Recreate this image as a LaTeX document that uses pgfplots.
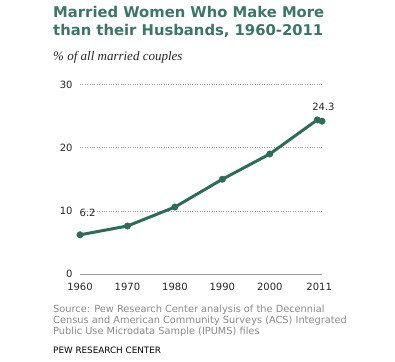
\documentclass[border=0pt]{standalone}
\usepackage{pgfplots}
\pgfplotsset{compat=1.18}
\usepackage{fontspec}
\setmainfont{DejaVu Sans}
\newfontfamily\titlefont{DejaVu Sans}
\newfontfamily\subfont{Liberation Serif}
\definecolor{titlegreen}{HTML}{3D7568}
\definecolor{linegreen}{HTML}{2F6B5B}
\definecolor{srcgray}{HTML}{8A8A8A}
\definecolor{gridgray}{HTML}{999999}
\begin{document}
\begin{tikzpicture}
\useasboundingbox (0,0) rectangle (395bp,362bp);
\node[anchor=base west, inner sep=0pt, text=titlegreen, font=\titlefont\bfseries\fontsize{14.8bp}{17bp}\selectfont] at (53bp,344bp) {Married Women Who Make More};
\node[anchor=base west, inner sep=0pt, text=titlegreen, font=\titlefont\bfseries\fontsize{14.8bp}{17bp}\selectfont] at (53bp,326bp) {than their Husbands, 1960-2011};
\node[anchor=base west, inner sep=0pt, text=black!85, font=\subfont\itshape\fontsize{13bp}{15bp}\selectfont] at (53bp,301bp) {\% of all married couples};
\begin{axis}[
  at={(80bp,88bp)}, anchor=south west,
  scale only axis, width=242bp, height=189.5bp,
  xmin=1960, xmax=2011, ymin=0, ymax=30,
  clip=false,
  axis line style={draw=none},
  major tick length=0pt,
  xtick={1960,1970,1980,1990,2000,2010.4},
  xticklabels={1960,1970,1980,1990,2000,2011},
  ytick={10,20,30},
  extra y ticks={0},
  extra y tick style={grid style={solid, draw=gridgray, line width=0.8bp}},
  ymajorgrids,
  grid style={dotted, draw=gridgray, line width=0.6bp},
  /pgf/number format/assume math mode=true,
  tick label style={font=\fontsize{10bp}{12bp}\selectfont, text=black!85},
  yticklabel style={anchor=east, xshift=-4bp},
  xticklabel style={anchor=base, yshift=-17bp},
]
\addplot[linegreen, line width=3bp, mark=*, mark size=3.3bp, mark options={solid, fill=linegreen, draw=linegreen, line width=0.3bp}]
coordinates {(1960,6.2) (1970,7.6) (1980,10.6) (1990,15.0) (2000,19.0) (2010,24.4) (2011,24.2)};
\node[anchor=base, inner sep=0pt, font=\fontsize{10bp}{12bp}\selectfont, text=black!85] at (axis cs:1961.6,9.1) {6.2};
\node[anchor=base, inner sep=0pt, font=\fontsize{10bp}{12bp}\selectfont, text=black!85] at (axis cs:2011.3,25.9) {24.3};
\end{axis}
\node[anchor=base west, inner sep=0pt, text=srcgray, font=\fontsize{9.8bp}{11bp}\selectfont] at (53bp,49bp) {Source: Pew Research Center analysis of the Decennial};
\node[anchor=base west, inner sep=0pt, text=srcgray, font=\fontsize{9.8bp}{11bp}\selectfont] at (53bp,38.5bp) {Census and American Community Surveys (ACS) Integrated};
\node[anchor=base west, inner sep=0pt, text=srcgray, font=\fontsize{9.8bp}{11bp}\selectfont] at (53bp,28bp) {Public Use Microdata Sample (IPUMS) files};
\node[anchor=base west, inner sep=0pt, text=black, font=\fontsize{8.8bp}{10.5bp}\selectfont] at (53bp,9bp) {PEW RESEARCH CENTER};
\end{tikzpicture}
\end{document}
